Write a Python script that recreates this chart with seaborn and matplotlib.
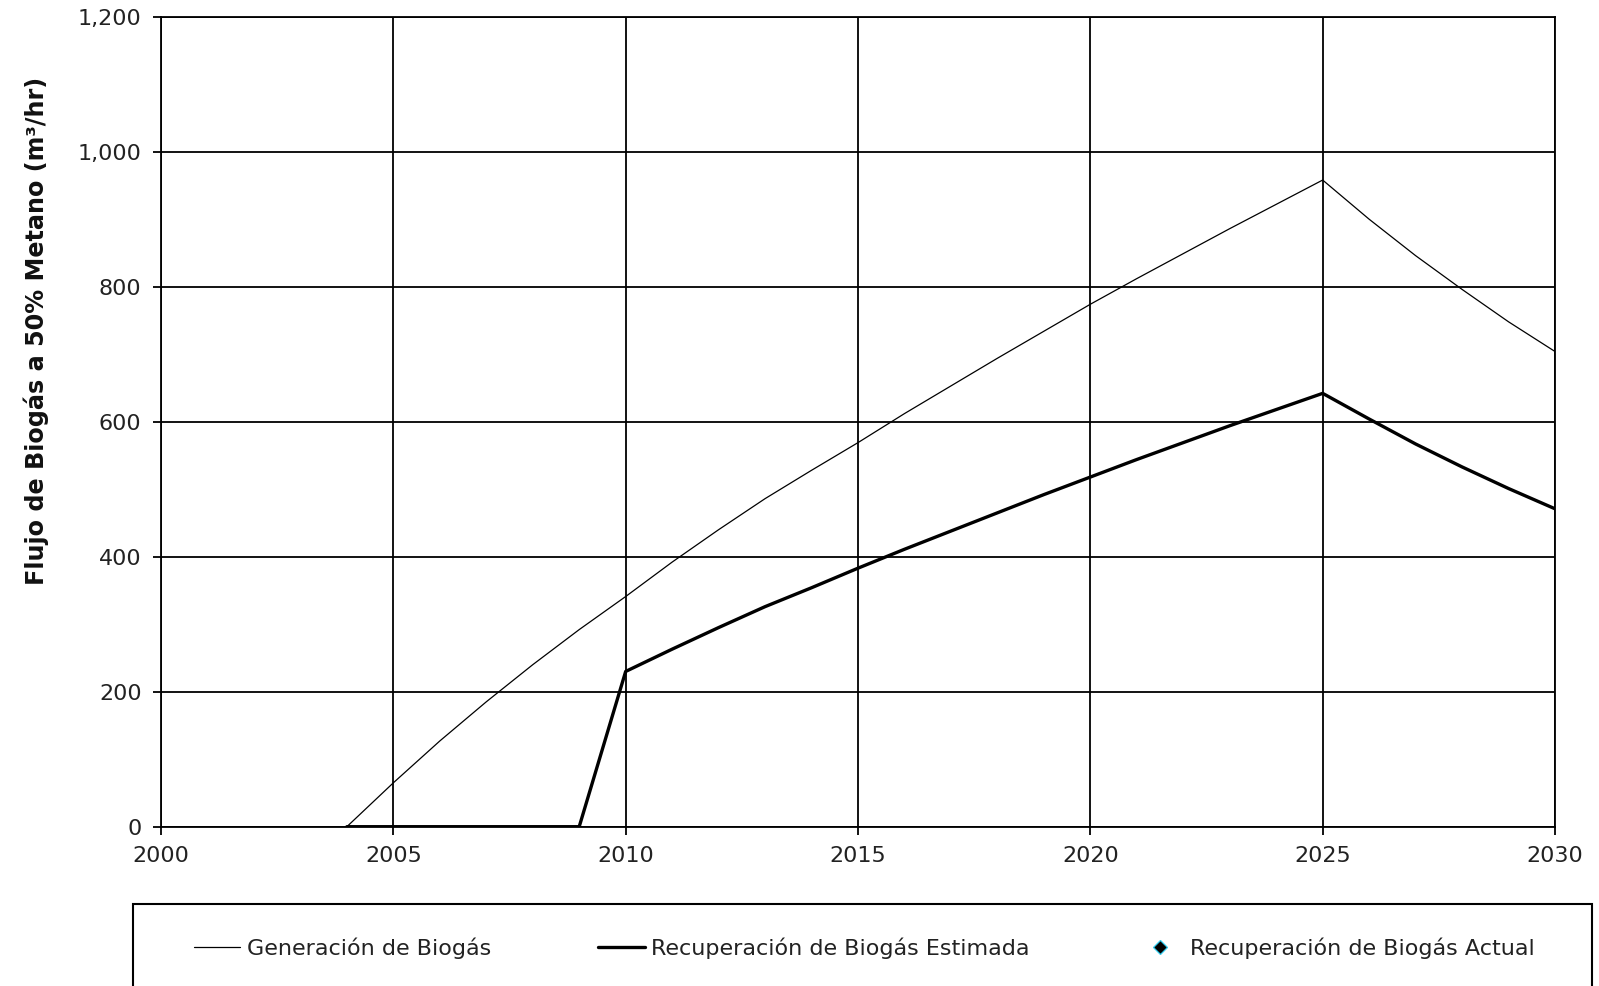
import numpy as np
import pandas as pd
import matplotlib
matplotlib.use("Agg")
import matplotlib.pyplot as plt
from matplotlib.ticker import FuncFormatter
from matplotlib.patches import Rectangle
import seaborn as sns

# ---- data ----
gen_years = list(range(2004, 2031))
gen_values = [0, 65, 127, 185, 240, 292, 341, 392, 440, 486, 528, 569, 612, 653, 694,
              734, 774, 812, 849, 886, 922, 958, 900, 846, 796, 748, 704]

rec_years = list(range(2004, 2031))
rec_values = [0, 0, 0, 0, 0, 0, 230, 263, 295, 326, 354, 383, 411, 438, 465, 492,
              518, 544, 569, 594, 618, 642, 604, 567, 533, 501, 471]

act_years = []
act_values = []

x_ticks = [2000, 2005, 2010, 2015, 2020, 2025, 2030]
y_ticks = [0, 200, 400, 600, 800, 1000, 1200]

label_gen = "Generación de Biogás"
label_rec = "Recuperación de Biogás Estimada"
label_act = "Recuperación de Biogás Actual"
y_label = "Flujo de Biogás a 50% Metano (m³/hr)"

# ---- styling ----
sns.set_style("ticks")
plt.rcParams["font.family"] = ["DejaVu Sans"]

W, H = 1599, 986
fig = plt.figure(figsize=(W / 100, H / 100), dpi=100)
left, right, top, bottom = 161, 1555, 16.7, 826.7
ax = fig.add_axes([left / W, 1 - bottom / H, (right - left) / W, (bottom - top) / H])

df_gen = pd.DataFrame({"year": gen_years, "value": gen_values})
df_rec = pd.DataFrame({"year": rec_years, "value": rec_values})

sns.lineplot(data=df_gen, x="year", y="value", ax=ax, color="black", linewidth=0.9,
             label=label_gen, zorder=3)
sns.lineplot(data=df_rec, x="year", y="value", ax=ax, color="black", linewidth=2.4,
             label=label_rec, zorder=4)
ax.plot(act_years, act_values, linestyle="none", marker="D", markersize=7.5,
        markerfacecolor="black", markeredgecolor="#33ccee", markeredgewidth=0.9,
        label=label_act)

ax.set_xlim(2000, 2030)
ax.set_ylim(0, 1200)
ax.set_xticks(x_ticks)
ax.set_yticks(y_ticks)
ax.yaxis.set_major_formatter(FuncFormatter(lambda v, p: f"{v:,.0f}"))
ax.xaxis.set_major_formatter(FuncFormatter(lambda v, p: f"{v:.0f}"))
ax.set_xlabel("")
ax.set_ylabel("")

ax.grid(True, color="black", linewidth=1.3)
ax.set_axisbelow(True)
for s in ax.spines.values():
    s.set_visible(True)
    s.set_color("black")
    s.set_linewidth(1.3)
ax.tick_params(axis="both", direction="out", length=6, width=1.3, color="black",
               labelsize=16, labelcolor="#222222", pad=8)

fig.text(36 / W, 1 - 331 / H, y_label, rotation=90, ha="center", va="center",
         fontsize=17.2, fontweight="bold", color="#111111")

# legend
handles, labels = ax.get_legend_handles_labels()
ax.get_legend().remove()
leg = fig.legend(handles, labels, loc="center", bbox_to_anchor=(864 / W, 1 - 948.3 / H),
                 ncol=3, frameon=False, fontsize=16, handlelength=2.1,
                 handletextpad=0.3, columnspacing=4.8)
for t in leg.get_texts():
    t.set_color("#222222")

rect = Rectangle((133.3 / W, -0.05), (1591.5 - 133.3) / W, (1 - 904.3 / H) + 0.05,
                 transform=fig.transFigure, fill=False, edgecolor="black",
                 linewidth=1.5, clip_on=False)
fig.patches.append(rect)

fig.savefig("out.png", dpi=100, facecolor="white")
